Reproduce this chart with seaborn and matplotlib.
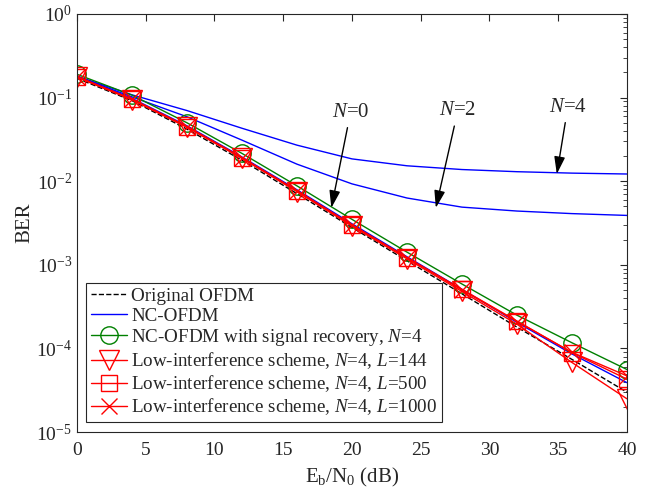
import matplotlib
matplotlib.use("Agg")
import matplotlib.pyplot as plt
import seaborn as sns
import numpy as np

# ---- data ----
snr_db = [0, 4, 8, 12, 16, 20, 24, 28, 32, 36, 40]
ber_original = [0.17, 0.092, 0.042, 0.0178, 0.0071, 0.0028, 0.00112, 4.5e-4, 1.8e-4, 7.4e-5, 3.0e-5]
ber_nc_n0 = [0.18, 0.098, 0.046, 0.0195, 0.0079, 0.0031, 0.00125, 5.1e-4, 2.05e-4, 8.6e-5, 3.9e-5]
ber_nc_n2 = [0.18, 0.102, 0.059, 0.031, 0.016, 0.0093, 0.0063, 0.0049, 0.0044, 0.0041, 0.0039]
ber_nc_n4 = [0.18, 0.108, 0.070, 0.043, 0.027, 0.0185, 0.0153, 0.0138, 0.013, 0.0125, 0.0122]
ber_recovery = [0.19, 0.107, 0.050, 0.0215, 0.0088, 0.0035, 0.00142, 5.9e-4, 2.5e-4, 1.17e-4, 5.6e-5]
ber_li_144 = [0.175, 0.094, 0.044, 0.0187, 0.0075, 0.0029, 0.00118, 4.8e-4, 1.95e-4, 6.8e-5, 2.5e-5]
ber_li_500 = [0.178, 0.096, 0.045, 0.0191, 0.0077, 0.0030, 0.00122, 5.1e-4, 2.13e-4, 8.9e-5, 4.3e-5]
ber_li_1000 = [0.178, 0.096, 0.045, 0.0191, 0.0077, 0.0030, 0.00122, 5.0e-4, 2.1e-4, 9.0e-5, 4.7e-5]

labels = ["Original OFDM", "NC-OFDM",
          "NC-OFDM with signal recovery, $N$=4",
          "Low-interference scheme, $N$=4, $L$=144",
          "Low-interference scheme, $N$=4, $L$=500",
          "Low-interference scheme, $N$=4, $L$=1000"]
x_ticks = [0, 5, 10, 15, 20, 25, 30, 35, 40]

sns.set_theme(style="white")
plt.rcParams["font.family"] = ["Liberation Serif", "DejaVu Serif"]
plt.rcParams["mathtext.fontset"] = "custom"
plt.rcParams["mathtext.rm"] = "Liberation Serif"
plt.rcParams["mathtext.it"] = "Liberation Serif:italic"
plt.rcParams["mathtext.bf"] = "Liberation Serif:bold"

fig = plt.figure(figsize=(6.47, 4.91), dpi=100)
ax = fig.add_axes([0.119, 0.120, 0.850, 0.8515])

blue = "#0000FF"
red = "#FF0000"
green = "#008000"

sns.lineplot(x=snr_db, y=ber_original, ax=ax, color="black", linestyle="--", lw=1.0, label=labels[0])
sns.lineplot(x=snr_db, y=ber_nc_n0, ax=ax, color=blue, lw=1.0, label=labels[1])
sns.lineplot(x=snr_db, y=ber_nc_n2, ax=ax, color=blue, lw=1.0, label="_nolegend_")
sns.lineplot(x=snr_db, y=ber_nc_n4, ax=ax, color=blue, lw=1.0, label="_nolegend_")
sns.lineplot(x=snr_db, y=ber_recovery, ax=ax, color=green, lw=1.0, marker="o", markersize=12.5,
             markerfacecolor="none", markeredgecolor=green, markeredgewidth=1.0, label=labels[2])
sns.lineplot(x=snr_db, y=ber_li_144, ax=ax, color=red, lw=1.0, marker="v", markersize=14,
             markerfacecolor="none", markeredgecolor=red, markeredgewidth=1.0, label=labels[3])
sns.lineplot(x=snr_db, y=ber_li_500, ax=ax, color=red, lw=1.0, marker="s", markersize=11,
             markerfacecolor="none", markeredgecolor=red, markeredgewidth=1.0, label=labels[4])
sns.lineplot(x=snr_db, y=ber_li_1000, ax=ax, color=red, lw=1.0, marker="x", markersize=11,
             markerfacecolor="none", markeredgecolor=red, markeredgewidth=1.0, label=labels[5])

ax.set_yscale("log")
ax.set_xlim(0, 40)
ax.set_ylim(1e-5, 1)
ax.set_xticks(x_ticks)
ax.set_xticklabels([str(t) for t in x_ticks])
ax.tick_params(axis="both", which="both", direction="in", top=True, right=True,
               labelsize=14, colors="#262626", labelcolor="#262626")
ax.tick_params(axis="x", which="major", pad=7)
ax.tick_params(which="major", length=5, width=0.8)
ax.tick_params(which="minor", length=3, width=0.6)
for s in ax.spines.values():
    s.set_color("#262626")
    s.set_linewidth(0.8)

ax.set_xlabel("E$_\\mathrm{b}$/N$_0$ (dB)", fontsize=15, color="#262626", labelpad=5)
ax.set_ylabel("BER", fontsize=15, color="#262626", labelpad=1)

arrow = dict(arrowstyle="-|>,head_length=0.7,head_width=0.22", color="black", lw=1.0, shrinkA=2, shrinkB=0)
ax.annotate("$N$=0", xy=(18.5, 0.0048), xytext=(19.9, 0.067), fontsize=15, ha="center", va="center", arrowprops=arrow)
ax.annotate("$N$=2", xy=(26.1, 0.0048), xytext=(27.7, 0.070), fontsize=15, ha="center", va="center", arrowprops=arrow)
ax.annotate("$N$=4", xy=(34.9, 0.0122), xytext=(35.7, 0.077), fontsize=15, ha="center", va="center", arrowprops=arrow)

leg = ax.legend(loc="lower left", bbox_to_anchor=(0.017, 0.024), borderaxespad=0, fontsize=13.7,
                frameon=True, fancybox=False, framealpha=1, edgecolor="#262626",
                handlelength=1.9, handletextpad=0.2, labelspacing=0.12, borderpad=0.25)
leg.get_frame().set_linewidth(0.8)

fig.savefig("out.png", dpi=100)
